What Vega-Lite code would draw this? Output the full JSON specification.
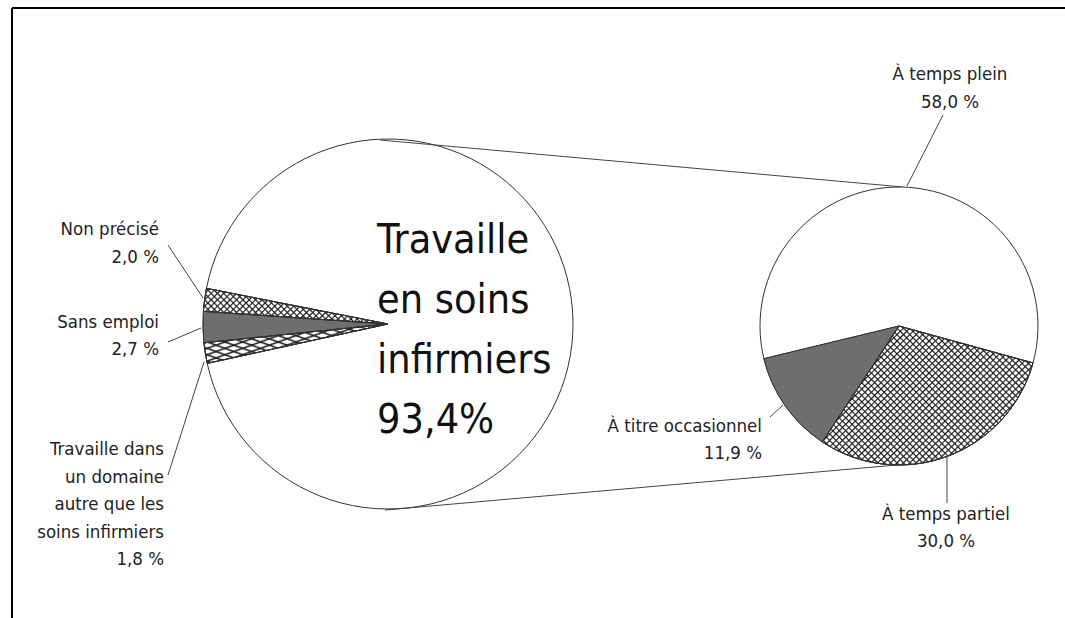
{
  "$schema": "https://vega.github.io/schema/vega-lite/v6.json",
  "width": 1053,
  "height": 610,
  "padding": {"left": 12, "top": 8, "right": 0, "bottom": 0},
  "autosize": {"type": "none"},
  "background": "#ffffff",
  "config": {"view": {"stroke": null}, "text": {"font": "Liberation Sans Narrow, DejaVu Sans Condensed, sans-serif"}},
  "params": [
    {"name": "hachures", "value": [
      {"offset":0,"color":"#222"},{"offset":0.005,"color":"transparent"},{"offset":0.015,"color":"transparent"},
      {"offset":0.02,"color":"#222"},{"offset":0.025,"color":"transparent"},{"offset":0.035,"color":"transparent"},
      {"offset":0.04,"color":"#222"},{"offset":0.045,"color":"transparent"},{"offset":0.055,"color":"transparent"},
      {"offset":0.06,"color":"#222"},{"offset":0.065,"color":"transparent"},{"offset":0.075,"color":"transparent"},
      {"offset":0.08,"color":"#222"},{"offset":0.085,"color":"transparent"},{"offset":0.095,"color":"transparent"},
      {"offset":0.1,"color":"#222"},{"offset":0.105,"color":"transparent"},{"offset":0.115,"color":"transparent"},
      {"offset":0.12,"color":"#222"},{"offset":0.125,"color":"transparent"},{"offset":0.135,"color":"transparent"},
      {"offset":0.14,"color":"#222"},{"offset":0.145,"color":"transparent"},{"offset":0.155,"color":"transparent"},
      {"offset":0.16,"color":"#222"},{"offset":0.165,"color":"transparent"},{"offset":0.175,"color":"transparent"},
      {"offset":0.18,"color":"#222"},{"offset":0.185,"color":"transparent"},{"offset":0.195,"color":"transparent"},
      {"offset":0.2,"color":"#222"},{"offset":0.205,"color":"transparent"},{"offset":0.215,"color":"transparent"},
      {"offset":0.22,"color":"#222"},{"offset":0.225,"color":"transparent"},{"offset":0.235,"color":"transparent"},
      {"offset":0.24,"color":"#222"},{"offset":0.245,"color":"transparent"},{"offset":0.255,"color":"transparent"},
      {"offset":0.26,"color":"#222"},{"offset":0.265,"color":"transparent"},{"offset":0.275,"color":"transparent"},
      {"offset":0.28,"color":"#222"},{"offset":0.285,"color":"transparent"},{"offset":0.295,"color":"transparent"},
      {"offset":0.3,"color":"#222"},{"offset":0.305,"color":"transparent"},{"offset":0.315,"color":"transparent"},
      {"offset":0.32,"color":"#222"},{"offset":0.325,"color":"transparent"},{"offset":0.335,"color":"transparent"},
      {"offset":0.34,"color":"#222"},{"offset":0.345,"color":"transparent"},{"offset":0.355,"color":"transparent"},
      {"offset":0.36,"color":"#222"},{"offset":0.365,"color":"transparent"},{"offset":0.375,"color":"transparent"},
      {"offset":0.38,"color":"#222"},{"offset":0.385,"color":"transparent"},{"offset":0.395,"color":"transparent"},
      {"offset":0.4,"color":"#222"},{"offset":0.405,"color":"transparent"},{"offset":0.415,"color":"transparent"},
      {"offset":0.42,"color":"#222"},{"offset":0.425,"color":"transparent"},{"offset":0.435,"color":"transparent"},
      {"offset":0.44,"color":"#222"},{"offset":0.445,"color":"transparent"},{"offset":0.455,"color":"transparent"},
      {"offset":0.46,"color":"#222"},{"offset":0.465,"color":"transparent"},{"offset":0.475,"color":"transparent"},
      {"offset":0.48,"color":"#222"},{"offset":0.485,"color":"transparent"},{"offset":0.495,"color":"transparent"},
      {"offset":0.5,"color":"#222"},{"offset":0.505,"color":"transparent"},{"offset":0.515,"color":"transparent"},
      {"offset":0.52,"color":"#222"},{"offset":0.525,"color":"transparent"},{"offset":0.535,"color":"transparent"},
      {"offset":0.54,"color":"#222"},{"offset":0.545,"color":"transparent"},{"offset":0.555,"color":"transparent"},
      {"offset":0.56,"color":"#222"},{"offset":0.565,"color":"transparent"},{"offset":0.575,"color":"transparent"},
      {"offset":0.58,"color":"#222"},{"offset":0.585,"color":"transparent"},{"offset":0.595,"color":"transparent"},
      {"offset":0.6,"color":"#222"},{"offset":0.605,"color":"transparent"},{"offset":0.615,"color":"transparent"},
      {"offset":0.62,"color":"#222"},{"offset":0.625,"color":"transparent"},{"offset":0.635,"color":"transparent"},
      {"offset":0.64,"color":"#222"},{"offset":0.645,"color":"transparent"},{"offset":0.655,"color":"transparent"},
      {"offset":0.66,"color":"#222"},{"offset":0.665,"color":"transparent"},{"offset":0.675,"color":"transparent"},
      {"offset":0.68,"color":"#222"},{"offset":0.685,"color":"transparent"},{"offset":0.695,"color":"transparent"},
      {"offset":0.7,"color":"#222"},{"offset":0.705,"color":"transparent"},{"offset":0.715,"color":"transparent"},
      {"offset":0.72,"color":"#222"},{"offset":0.725,"color":"transparent"},{"offset":0.735,"color":"transparent"},
      {"offset":0.74,"color":"#222"},{"offset":0.745,"color":"transparent"},{"offset":0.755,"color":"transparent"},
      {"offset":0.76,"color":"#222"},{"offset":0.765,"color":"transparent"},{"offset":0.775,"color":"transparent"},
      {"offset":0.78,"color":"#222"},{"offset":0.785,"color":"transparent"},{"offset":0.795,"color":"transparent"},
      {"offset":0.8,"color":"#222"},{"offset":0.805,"color":"transparent"},{"offset":0.815,"color":"transparent"},
      {"offset":0.82,"color":"#222"},{"offset":0.825,"color":"transparent"},{"offset":0.835,"color":"transparent"},
      {"offset":0.84,"color":"#222"},{"offset":0.845,"color":"transparent"},{"offset":0.855,"color":"transparent"},
      {"offset":0.86,"color":"#222"},{"offset":0.865,"color":"transparent"},{"offset":0.875,"color":"transparent"},
      {"offset":0.88,"color":"#222"},{"offset":0.885,"color":"transparent"},{"offset":0.895,"color":"transparent"},
      {"offset":0.9,"color":"#222"},{"offset":0.905,"color":"transparent"},{"offset":0.915,"color":"transparent"},
      {"offset":0.92,"color":"#222"},{"offset":0.925,"color":"transparent"},{"offset":0.935,"color":"transparent"},
      {"offset":0.94,"color":"#222"},{"offset":0.945,"color":"transparent"},{"offset":0.955,"color":"transparent"},
      {"offset":0.96,"color":"#222"},{"offset":0.965,"color":"transparent"},{"offset":0.975,"color":"transparent"},
      {"offset":0.98,"color":"#222"},{"offset":0.985,"color":"transparent"},{"offset":0.995,"color":"transparent"},
      {"offset":1,"color":"#222"}
    ]}
  ],
  "datasets": {
    "principal": [
      {"pie": "principal", "cat": "Travaille dans un domaine autre que les soins infirmiers", "ord": 1, "value": 1.8, "etiquette": ["Travaille dans", "un domaine", "autre que les", "soins infirmiers", "1,8 %"]},
      {"pie": "principal", "cat": "Sans emploi", "ord": 2, "value": 2.7, "etiquette": ["Sans emploi", "2,7 %"]},
      {"pie": "principal", "cat": "Non précisé", "ord": 3, "value": 2.0, "etiquette": ["Non précisé", "2,0 %"]},
      {"pie": "principal", "cat": "Travaille en soins infirmiers", "ord": 4, "value": 93.4, "etiquette": ["Travaille", "en soins", "infirmiers", "93,4%"]}
    ],
    "detail": [
      {"pie": "détail", "cat": "À temps partiel", "ord": 1, "value": 30.0, "etiquette": ["À temps partiel", "30,0 %"]},
      {"pie": "détail", "cat": "À titre occasionnel", "ord": 2, "value": 11.9, "etiquette": ["À titre occasionnel", "11,9 %"]},
      {"pie": "détail", "cat": "À temps plein", "ord": 3, "value": 58.0, "etiquette": ["À temps plein", "58,0 %"]}
    ]
  },
  "encoding": {
    "x": {"field": "pie", "type": "nominal", "scale": {"type": "point", "domain": ["principal", "détail"], "range": [376, 887], "padding": 0}, "axis": null}
  },
  "resolve": {"scale": {"theta": "independent"}},
  "layer": [
    {
      "data": {"values": [{"cadre": "haut"}]},
      "mark": {"type": "rule", "stroke": "#000000", "strokeWidth": 2},
      "encoding": {"x": {"value": 0}, "x2": {"value": {"expr": "width"}}, "y": {"value": 0}}
    },
    {
      "data": {"values": [{"cadre": "gauche"}]},
      "mark": {"type": "rule", "stroke": "#000000", "strokeWidth": 2},
      "encoding": {"x": {"value": 0}, "y": {"value": 0}, "y2": {"value": {"expr": "height"}}}
    },
    {
      "data": {"name": "principal"},
      "transform": [{"stack": "value", "groupby": [], "sort": [{"field": "ord", "order": "ascending"}], "as": ["v0", "v1"]}],
      "layer": [
        {
          "encoding": {
            "theta": {"field": "v0", "type": "quantitative", "stack": null, "scale": {"domain": [0, 99.9], "range": [4.4977, 10.7809]}},
            "theta2": {"field": "v1"}
          },
          "layer": [
            {"mark": {"type": "arc", "radius": 185, "yOffset": 11, "fill": "#ffffff", "stroke": "#333333", "strokeWidth": 1}},
            {"transform": [{"filter": {"field": "cat", "equal": "Sans emploi"}}],
             "mark": {"type": "arc", "radius": 185, "yOffset": 11, "fill": "#6e6e6e", "stroke": "#333333", "strokeWidth": 1}},
            {"transform": [{"filter": {"field": "cat", "equal": "Non précisé"}}],
             "mark": {"type": "arc", "radius": 185, "yOffset": 11, "fill": {"expr": "{gradient: 'linear', x1: 0, y1: 0, x2: 1.66, y2: 0.32, stops: hachures}"}, "stroke": "#333333", "strokeWidth": 1}},
            {"transform": [{"filter": {"field": "cat", "equal": "Non précisé"}}],
             "mark": {"type": "arc", "radius": 185, "yOffset": 11, "fill": {"expr": "{gradient: 'linear', x1: 0, y1: 1, x2: 1.66, y2: 0.68, stops: hachures}"}, "stroke": "#333333", "strokeWidth": 1}},
            {"transform": [{"filter": {"field": "cat", "equal": "Travaille dans un domaine autre que les soins infirmiers"}}],
             "mark": {"type": "arc", "radius": 185, "yOffset": 11, "fill": {"expr": "{gradient: 'linear', x1: 1, y1: 0, x2: -2.56, y2: 2.12, stops: hachures}"}, "stroke": "#333333", "strokeWidth": 1}},
            {"transform": [{"filter": {"field": "cat", "equal": "Travaille dans un domaine autre que les soins infirmiers"}}],
             "mark": {"type": "arc", "radius": 185, "yOffset": 11, "fill": {"expr": "{gradient: 'linear', x1: 0, y1: 0, x2: 3.56, y2: 2.12, stops: hachures}"}, "stroke": "#333333", "strokeWidth": 1}}
          ]
        },
        {"transform": [{"filter": {"field": "cat", "equal": "Travaille en soins infirmiers"}}],
         "mark": {"type": "text", "align": "left", "baseline": "alphabetic", "dx": -11, "dy": -60, "fontSize": 41, "lineHeight": 60, "fill": "#111111"},
         "encoding": {"text": {"field": "etiquette", "type": "nominal"}}},
        {"transform": [{"filter": {"field": "cat", "equal": "Non précisé"}}],
         "mark": {"type": "text", "align": "right", "baseline": "alphabetic", "dx": -229, "dy": -78, "fontSize": 18.5, "lineHeight": 28, "fill": "#222222"},
         "encoding": {"text": {"field": "etiquette", "type": "nominal"}}},
        {"transform": [{"filter": {"field": "cat", "equal": "Sans emploi"}}],
         "mark": {"type": "text", "align": "right", "baseline": "alphabetic", "dx": -229, "dy": 15, "fontSize": 18.5, "lineHeight": 27, "fill": "#222222"},
         "encoding": {"text": {"field": "etiquette", "type": "nominal"}}},
        {"transform": [{"filter": {"field": "cat", "equal": "Travaille dans un domaine autre que les soins infirmiers"}}],
         "mark": {"type": "text", "align": "right", "baseline": "alphabetic", "dx": -224, "dy": 142, "fontSize": 18.5, "lineHeight": 27.5, "fill": "#222222"},
         "encoding": {"text": {"field": "etiquette", "type": "nominal"}}},
        {"transform": [{"filter": {"field": "cat", "equal": "Non précisé"}}],
         "mark": {"type": "rule", "stroke": "#444444", "strokeWidth": 1, "xOffset": -220, "yOffset": -68, "x2Offset": -185, "y2Offset": -15},
         "encoding": {"x2": {"field": "pie"}, "y": {"value": {"expr": "height/2"}}, "y2": {"value": {"expr": "height/2"}}}},
        {"transform": [{"filter": {"field": "cat", "equal": "Sans emploi"}}],
         "mark": {"type": "rule", "stroke": "#444444", "strokeWidth": 1, "xOffset": -220, "yOffset": 29, "x2Offset": -187, "y2Offset": 15},
         "encoding": {"x2": {"field": "pie"}, "y": {"value": {"expr": "height/2"}}, "y2": {"value": {"expr": "height/2"}}}},
        {"transform": [{"filter": {"field": "cat", "equal": "Travaille dans un domaine autre que les soins infirmiers"}}],
         "mark": {"type": "rule", "stroke": "#444444", "strokeWidth": 1, "xOffset": -220, "yOffset": 162, "x2Offset": -184, "y2Offset": 49},
         "encoding": {"x2": {"field": "pie"}, "y": {"value": {"expr": "height/2"}}, "y2": {"value": {"expr": "height/2"}}}},
        {"transform": [{"filter": {"field": "cat", "equal": "Travaille en soins infirmiers"}}],
         "mark": {"type": "rule", "stroke": "#444444", "strokeWidth": 1, "xOffset": -8, "yOffset": -173, "x2Offset": 4, "y2Offset": -126},
         "encoding": {"x2": {"datum": "détail"}, "y": {"value": {"expr": "height/2"}}, "y2": {"value": {"expr": "height/2"}}}},
        {"transform": [{"filter": {"field": "cat", "equal": "Travaille en soins infirmiers"}}],
         "mark": {"type": "rule", "stroke": "#444444", "strokeWidth": 1, "xOffset": -3, "yOffset": 197, "x2Offset": -2, "y2Offset": 152},
         "encoding": {"x2": {"datum": "détail"}, "y": {"value": {"expr": "height/2"}}, "y2": {"value": {"expr": "height/2"}}}}
      ]
    },
    {
      "data": {"name": "detail"},
      "transform": [{"stack": "value", "groupby": [], "sort": [{"field": "ord", "order": "ascending"}], "as": ["v0", "v1"]}],
      "layer": [
        {
          "encoding": {
            "theta": {"field": "v0", "type": "quantitative", "stack": null, "scale": {"domain": [0, 99.9], "range": [1.8396, 8.1228]}},
            "theta2": {"field": "v1"}
          },
          "layer": [
            {"mark": {"type": "arc", "radius": 139, "yOffset": 13, "fill": "#ffffff", "stroke": "#333333", "strokeWidth": 1}},
            {"transform": [{"filter": {"field": "cat", "equal": "À titre occasionnel"}}],
             "mark": {"type": "arc", "radius": 139, "yOffset": 13, "fill": "#6e6e6e", "stroke": "#333333", "strokeWidth": 1}},
            {"transform": [{"filter": {"field": "cat", "equal": "À temps partiel"}}],
             "mark": {"type": "arc", "radius": 139, "yOffset": 13, "fill": {"expr": "{gradient: 'linear', x1: 0, y1: 0, x2: 1.06, y2: 0.699, stops: hachures}"}, "stroke": "#333333", "strokeWidth": 1}},
            {"transform": [{"filter": {"field": "cat", "equal": "À temps partiel"}}],
             "mark": {"type": "arc", "radius": 139, "yOffset": 13, "fill": {"expr": "{gradient: 'linear', x1: 0, y1: 1, x2: 1.06, y2: 0.301, stops: hachures}"}, "stroke": "#333333", "strokeWidth": 1}}
          ]
        },
        {"transform": [{"filter": {"field": "cat", "equal": "À temps plein"}}],
         "mark": {"type": "text", "align": "center", "baseline": "alphabetic", "dx": 51, "dy": -233, "fontSize": 18.5, "lineHeight": 28, "fill": "#222222"},
         "encoding": {"text": {"field": "etiquette", "type": "nominal"}}},
        {"transform": [{"filter": {"field": "cat", "equal": "À titre occasionnel"}}],
         "mark": {"type": "text", "align": "right", "baseline": "alphabetic", "dx": -137, "dy": 119, "fontSize": 18.5, "lineHeight": 27, "fill": "#222222"},
         "encoding": {"text": {"field": "etiquette", "type": "nominal"}}},
        {"transform": [{"filter": {"field": "cat", "equal": "À temps partiel"}}],
         "mark": {"type": "text", "align": "center", "baseline": "alphabetic", "dx": 47, "dy": 207, "fontSize": 18.5, "lineHeight": 27, "fill": "#222222"},
         "encoding": {"text": {"field": "etiquette", "type": "nominal"}}},
        {"transform": [{"filter": {"field": "cat", "equal": "À temps plein"}}],
         "mark": {"type": "rule", "stroke": "#444444", "strokeWidth": 1, "xOffset": 44, "yOffset": -198, "x2Offset": 8, "y2Offset": -127},
         "encoding": {"x2": {"field": "pie"}, "y": {"value": {"expr": "height/2"}}, "y2": {"value": {"expr": "height/2"}}}},
        {"transform": [{"filter": {"field": "cat", "equal": "À titre occasionnel"}}],
         "mark": {"type": "rule", "stroke": "#444444", "strokeWidth": 1, "xOffset": -129, "yOffset": 104, "x2Offset": -116, "y2Offset": 92},
         "encoding": {"x2": {"field": "pie"}, "y": {"value": {"expr": "height/2"}}, "y2": {"value": {"expr": "height/2"}}}},
        {"transform": [{"filter": {"field": "cat", "equal": "À temps partiel"}}],
         "mark": {"type": "rule", "stroke": "#444444", "strokeWidth": 1, "xOffset": 48, "yOffset": 144, "x2Offset": 48, "y2Offset": 190},
         "encoding": {"x2": {"field": "pie"}, "y": {"value": {"expr": "height/2"}}, "y2": {"value": {"expr": "height/2"}}}}
      ]
    }
  ]
}
